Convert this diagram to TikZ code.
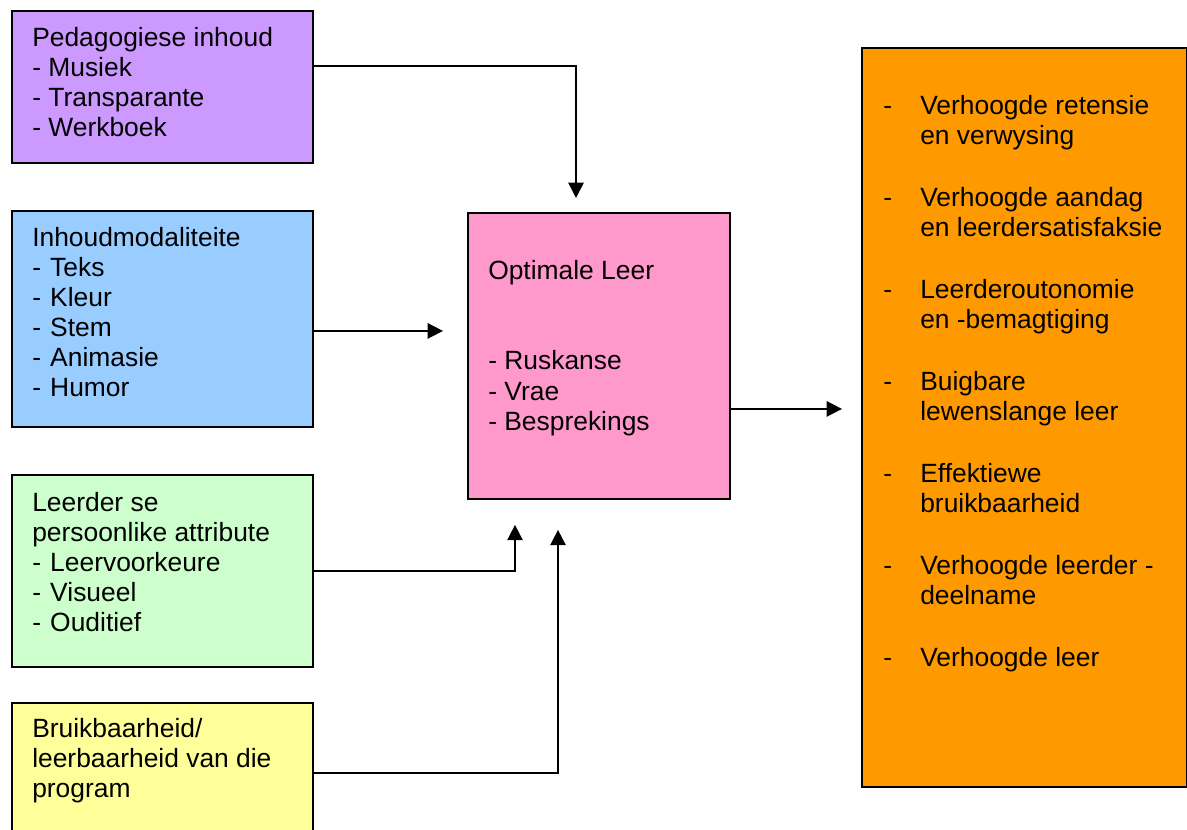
\documentclass[tikz,border=0pt]{standalone}
\usepackage{fontspec}
\setmainfont{Liberation Sans}
\usetikzlibrary{arrows.meta}

\definecolor{boxpurple}{HTML}{CC99FF}
\definecolor{boxblue}{HTML}{99CCFF}
\definecolor{boxgreen}{HTML}{CCFFCC}
\definecolor{boxyellow}{HTML}{FFFF99}
\definecolor{boxpink}{HTML}{FF99CC}
\definecolor{boxorange}{HTML}{FF9900}

% dash followed by a slightly wider gap
\newcommand{\wdash}{-\hspace{6.9pt}}

\begin{document}
\begin{tikzpicture}[x=0.75pt,y=-0.75pt,
  panel/.style={draw=black,line width=1.4pt,rectangle,inner sep=0pt,anchor=north west},
  label/.style={inner sep=0pt,anchor=base west,font=\fontsize{19.8pt}{22.5pt}\selectfont},
  conn/.style={line width=1.2pt,-{Triangle[width=11.5pt,length=11.5pt]}}]

\useasboundingbox (0,0) rectangle (1187,830);
\clip (0,0) rectangle (1187,830);

% boxes
\node[panel,fill=boxpurple,minimum width=225.75pt,minimum height=114pt] (purple) at (11,10) {};
\node[panel,fill=boxblue,minimum width=225.75pt,minimum height=162pt] (blue) at (11,210) {};
\node[panel,fill=boxgreen,minimum width=225.75pt,minimum height=144pt] (green) at (11,474) {};
\node[panel,fill=boxyellow,minimum width=225.75pt,minimum height=105pt] (yellow) at (11,702) {};
\node[panel,fill=boxpink,minimum width=196.5pt,minimum height=214.5pt] (pink) at (467,212) {};
\node[panel,fill=boxorange,minimum width=243.75pt,minimum height=554.25pt] (orange) at (861,47) {};

% texts
\node[label] (purpleTxt) at (32,47) {\begin{tabular}[t]{@{}l@{}}
Pedagogiese inhoud\\
- Musiek\\
- Transparante\\
- Werkboek
\end{tabular}};

\node[label] (blueTxt) at (32,247) {\begin{tabular}[t]{@{}l@{}}
Inhoudmodaliteite\\
\wdash Teks\\
\wdash Kleur\\
\wdash Stem\\
\wdash Animasie\\
\wdash Humor
\end{tabular}};

\node[label] (greenTxt) at (32,511) {\begin{tabular}[t]{@{}l@{}}
Leerder se\\
persoonlike attribute\\
\wdash Leervoorkeure\\
\wdash Visueel\\
\wdash Ouditief
\end{tabular}};

\node[label] (yellowTxt) at (32,737) {\begin{tabular}[t]{@{}l@{}}
Bruikbaarheid/\\
leerbaarheid van die\\
program
\end{tabular}};

\node[label] (pinkTxt) at (488,280) {\begin{tabular}[t]{@{}l@{}}
Optimale Leer\\
\\
\\
- Ruskanse\\
- Vrae\\
- Besprekings
\end{tabular}};

\node[label] (orangeTxt) at (883,115) {\begin{tabular}[t]{@{}p{27.75pt}@{}l@{}}
- & Verhoogde retensie\\
  & en verwysing\\[24pt]
- & Verhoogde aandag\\
  & en leerdersatisfaksie\\[24pt]
- & Leerderoutonomie\\
  & en -bemagtiging\\[24pt]
- & Buigbare\\
  & lewenslange leer\\[24pt]
- & Effektiewe\\
  & bruikbaarheid\\[24pt]
- & Verhoogde leerder -\\
  & deelname\\[24pt]
- & Verhoogde leer
\end{tabular}};

% connector end points
\coordinate (pOut) at ([yshift=-42pt]purple.north east);
\coordinate (pIn) at ([xshift=81.75pt]pink.north west);
\coordinate (bOut) at ([yshift=-9pt]blue.east);
\coordinate (gIn) at ([xshift=36pt]pink.south west);
\coordinate (yIn) at ([xshift=68.25pt]pink.south west);
\coordinate (kOut) at ([yshift=-39.75pt]pink.east);

% connectors
\draw[conn,shorten >=10.5pt] (pOut) -| (pIn);
\draw[conn,shorten >=18pt] (bOut) -- (bOut -| pink.west);
\draw[conn,shorten >=18.75pt] (green.east) -| (gIn);
\draw[conn,shorten >=22.5pt] (yellow.east) -| (yIn);
\draw[conn,shorten >=14.25pt] (kOut) -- (kOut -| orange.west);

\end{tikzpicture}
\end{document}
